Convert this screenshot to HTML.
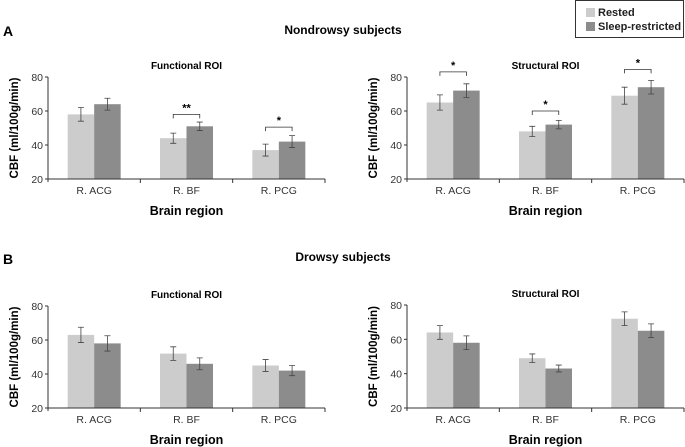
<!DOCTYPE html>
<html><head><meta charset="utf-8"><style>
body{margin:0;background:#fff;}
svg{display:block;font-family:"Liberation Sans",Arial,sans-serif;}
</style></head><body>
<svg id="chart" width="685" height="447" viewBox="0 0 685 447">
<g>
<rect x="575.5" y="0.5" width="108" height="37" fill="#fff" stroke="#333"/>
<rect x="586" y="8" width="9" height="9" fill="#cccccc"/>
<text x="598" y="16" font-size="11" font-weight="bold" fill="#222">Rested</text>
<rect x="586" y="22" width="9" height="9" fill="#8c8c8c"/>
<text x="598" y="30" font-size="11" font-weight="bold" fill="#222">Sleep-restricted</text>
</g>
<text x="3" y="36" font-size="14" font-weight="bold">A</text>
<text x="3" y="264" font-size="14" font-weight="bold">B</text>
<text x="343" y="34" font-size="12" font-weight="bold" text-anchor="middle">Nondrowsy subjects</text>
<text x="343" y="261" font-size="12" font-weight="bold" text-anchor="middle">Drowsy subjects</text>
</svg>
<script>
const categories = ["R. ACG","R. BF","R. PCG"];
const yTicks = [20,40,60,80];
const tlRested = [58,44,37], tlSleep = [64,51,42], tlRestedErr = [4,3,3.5], tlSleepErr = [3.5,2.5,3.5];
const trRested = [65,48,69], trSleep = [72,52,74], trRestedErr = [4.5,3,5], trSleepErr = [4,2.5,4];
const blRested = [63,52,45], blSleep = [58,46,42], blRestedErr = [4.5,4,3.5], blSleepErr = [4.5,3.5,3];
const brRested = [64,49,72], brSleep = [58,43,65], brRestedErr = [4,2.5,4], brSleepErr = [4,2,4];
const tlSig = [null,"**","*"], tlSigY = [null,58,50.5];
const trSig = ["*","*","*"], trSigY = [83,60,84.5];
const none = [null,null,null];

const NS="http://www.w3.org/2000/svg";
const svg=document.getElementById('chart');
function mk(tag,attrs,parent){const e=document.createElementNS(NS,tag);for(const k in attrs)e.setAttribute(k,attrs[k]);(parent||svg).appendChild(e);return e;}

function panel(name,x0,x1,yTop,yBot,title,rested,sleep,rErr,sErr,sig,sigY){
  const g=mk('g',{});
  
  
  const y=v=>yBot-(v-20)/60*(yBot-yTop);
  const cw=(x1-x0)/categories.length, bw=26.5;
  const t=mk('text',{x:(x0+x1)/2,y:yTop-8,'font-size':10,'font-weight':'bold','text-anchor':'middle'},g);t.textContent=title;
  
  
  categories.forEach((c,i)=>{
    const cx=x0+cw*(i+0.5);
    [[rested[i],rErr[i],'#cccccc',cx-bw],[sleep[i],sErr[i],'#8c8c8c',cx]].forEach((b,j)=>{
      const r=mk('rect',{x:b[3],y:y(b[0]),width:bw,height:yBot-y(b[0]),fill:b[2]},g);
      
      
      const ex=b[3]+bw/2, e1=y(b[0]+b[1]), e2=y(b[0]-b[1]);
      const eb=mk('path',{d:`M${ex},${e1}V${e2}M${ex-3},${e1}H${ex+3}M${ex-3},${e2}H${ex+3}`,stroke:'#444','stroke-width':0.8,fill:'none'},g);
      
      
    });
    if(sig[i]){
      const by=y(sigY[i]);
      const br=mk('path',{d:`M${cx-bw/2},${by+4}V${by}H${cx+bw/2}V${by+4}`,stroke:'#333','stroke-width':0.8,fill:'none'},g);
      
      
      const st=mk('text',{x:cx,y:by-3,'font-size':11,'font-weight':'bold','text-anchor':'middle'},g);st.textContent=sig[i];
      
      
    }
    const lt=mk('text',{x:cx,y:yBot+15,'font-size':10.5,'text-anchor':'middle',fill:'#333'},g);lt.textContent=c;
    
    
    mk('line',{x1:x0+cw*(i+1),x2:x0+cw*(i+1),y1:yBot,y2:yBot+4,stroke:'#333'},g);
  });
  mk('line',{x1:x0,x2:x0,y1:yTop,y2:yBot+3,stroke:'#333'},g);
  mk('line',{x1:x0,x2:x1,y1:yBot,y2:yBot,stroke:'#333'},g);
  yTicks.forEach(v=>{
    mk('line',{x1:x0-3,x2:x0,y1:y(v),y2:y(v),stroke:'#333'},g);
    const tt=mk('text',{x:x0-5,y:y(v)+4,'font-size':10.5,'text-anchor':'end',fill:'#333'},g);tt.textContent=v;
    
    
  });
  const yt=mk('text',{transform:`translate(${x0-30},${(yTop+yBot)/2}) rotate(-90)`,'font-size':11.5,'font-weight':'bold','text-anchor':'middle'},g);yt.textContent='CBF (ml/100g/min)';
  
  
  const xt=mk('text',{x:(x0+x1)/2,y:yBot+36,'font-size':12.5,'font-weight':'bold','text-anchor':'middle'},g);xt.textContent='Brain region';
  
  
}
panel('nondrowsy-functional-panel',48,325,77,179,'Functional ROI',tlRested,tlSleep,tlRestedErr,tlSleepErr,tlSig,tlSigY);
panel('nondrowsy-structural-panel',407,684,77,179,'Structural ROI',trRested,trSleep,trRestedErr,trSleepErr,trSig,trSigY);
panel('drowsy-functional-panel',48,325,306,408,'Functional ROI',blRested,blSleep,blRestedErr,blSleepErr,none,none);
panel('drowsy-structural-panel',407,684,305,408,'Structural ROI',brRested,brSleep,brRestedErr,brSleepErr,none,none);
</script>
</body></html>
